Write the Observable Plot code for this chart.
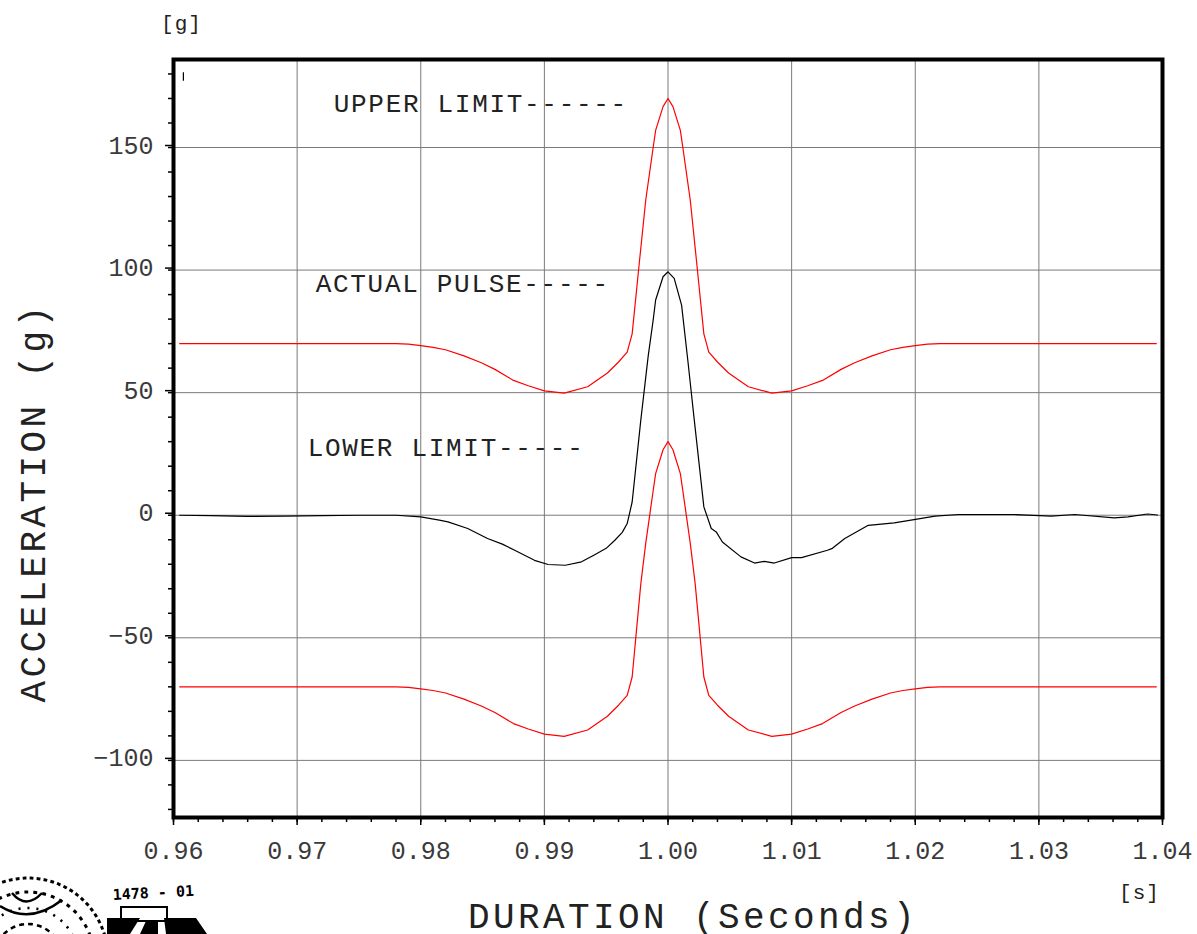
<!DOCTYPE html>
<html>
<head>
<meta charset="utf-8">
<script src="https://cdn.jsdelivr.net/npm/d3@7"></script>
<script src="https://cdn.jsdelivr.net/npm/@observablehq/plot@0.6"></script>
<style>
html, body { margin: 0; padding: 0; background: #fff; }
#wrap { position: relative; width: 1197px; height: 934px; overflow: hidden; background: #fff; }
#logo { position: absolute; left: 0; top: 0; pointer-events: none; }
</style>
</head>
<body>
<div id="wrap"></div>
<script>
// ---- Data ----
const pulseTime = [0.9605, 0.963, 0.966, 0.969, 0.972, 0.975, 0.978, 0.980, 0.9815, 0.9822, 0.9838, 0.9854, 0.9866, 0.9876, 0.9892, 0.9903, 0.9917, 0.9930, 0.9940, 0.9950, 0.9957, 0.9963, 0.9967, 0.9971, 0.9978, 0.9984, 0.9988, 0.9990, 0.9996, 1.0000, 1.0005, 1.0011, 1.0016, 1.0021, 1.0029, 1.0035, 1.0039, 1.0044, 1.0059, 1.0070, 1.0078, 1.0086, 1.0100, 1.0108, 1.0129, 1.0133, 1.0143, 1.0162, 1.0183, 1.0199, 1.0216, 1.0235, 1.0280, 1.0310, 1.0329, 1.0361, 1.0372, 1.0388, 1.0396];
const pulseAccel = [0, -0.2, -0.5, -0.4, -0.2, 0, 0, -0.7, -2, -2.7, -5.4, -9.5, -11.8, -14.3, -18.4, -20.1, -20.4, -19, -16.3, -13.5, -10.2, -7, -3.4, 5.4, 38.8, 65, 79.6, 87.8, 97.3, 99.3, 96.6, 85.7, 63.3, 40, 3.4, -5.4, -6.8, -10.9, -17, -19.5, -18.8, -19.5, -17.3, -17.3, -14.3, -13.5, -9.5, -4.1, -3.1, -1.8, -0.4, 0.3, 0.3, -0.4, 0.3, -1.1, -0.7, 0.5, 0.1];

const upperTime = [0.9605, 0.978, 0.979, 0.980, 0.981, 0.982, 0.9835, 0.9849, 0.986, 0.9875, 0.9887, 0.990, 0.9916, 0.9935, 0.9951, 0.9960, 0.9967, 0.9971, 0.9977, 0.9982, 0.9988, 0.9990, 0.9996, 1.0000, 1.0004, 1.0010, 1.0012, 1.0018, 1.0023, 1.0029, 1.0033, 1.0040, 1.0049, 1.0065, 1.0084, 1.0100, 1.0113, 1.0125, 1.0140, 1.0151, 1.0165, 1.0180, 1.0190, 1.0200, 1.0210, 1.0220, 1.0395];
const upperAccel = [70, 70, 69.8, 69.2, 68.5, 67.5, 65, 62.2, 59.5, 55, 52.8, 50.7, 49.8, 52.4, 58, 62.5, 66.5, 74, 104, 128.6, 150, 157, 166.7, 170, 166.7, 157, 150, 128.6, 104, 74, 66.5, 62.5, 58, 52.4, 49.8, 50.7, 52.8, 55, 59.5, 62.2, 65, 67.5, 68.5, 69.2, 69.8, 70, 70];

const lowerTime = [0.9605, 0.978, 0.979, 0.980, 0.981, 0.982, 0.9835, 0.9849, 0.986, 0.9875, 0.9887, 0.990, 0.9916, 0.9935, 0.9951, 0.9960, 0.9967, 0.9971, 0.9978, 0.9982, 0.9988, 0.9990, 0.9996, 1.0000, 1.0004, 1.0010, 1.0012, 1.0018, 1.0022, 1.0029, 1.0033, 1.0040, 1.0049, 1.0065, 1.0084, 1.0100, 1.0113, 1.0125, 1.0140, 1.0151, 1.0165, 1.0180, 1.0190, 1.0200, 1.0210, 1.0220, 1.0395];
const lowerAccel = [-70, -70, -70.2, -70.8, -71.5, -72.5, -75, -77.8, -80.5, -85, -87.2, -89.3, -90.2, -87.6, -82, -77.5, -73.5, -66, -28, -11.4, 10, 17, 26.7, 30, 26.7, 17, 10, -11.4, -28, -66, -73.5, -77.5, -82, -87.6, -90.2, -89.3, -87.2, -85, -80.5, -77.8, -75, -72.5, -71.5, -70.8, -70.2, -70, -70];

const xMajorTicks = [0.96, 0.97, 0.98, 0.99, 1.00, 1.01, 1.02, 1.03, 1.04];
const xMinorTicks = [0.96, 0.962, 0.964, 0.966, 0.968, 0.97, 0.972, 0.974, 0.976, 0.978, 0.98, 0.982, 0.984, 0.986, 0.988, 0.99, 0.992, 0.994, 0.996, 0.998, 1.0, 1.002, 1.004, 1.006, 1.008, 1.01, 1.012, 1.014, 1.016, 1.018, 1.02, 1.022, 1.024, 1.026, 1.028, 1.03, 1.032, 1.034, 1.036, 1.038, 1.04];
const yMajorTicks = [-100, -50, 0, 50, 100, 150];
const yMinorTicks = [-120, -110, -100, -90, -80, -70, -60, -50, -40, -30, -20, -10, 0, 10, 20, 30, 40, 50, 60, 70, 80, 90, 100, 110, 120, 130, 140, 150, 160, 170, 180];

const annotationText = ["UPPER LIMIT------", "ACTUAL PULSE-----", "LOWER LIMIT-----"];
const annotationTime = [0.97296, 0.97150, 0.97085];
const annotationAccel = [164.6, 91.0, 24.1];

const markerTime = [0.9608];
const markerAccel1 = [177];
const markerAccel2 = [180.5];

const yTitle = "ACCELERATION (g)";
const xTitle = "DURATION (Seconds)";
const yUnit = "[g]";
const xUnit = "[s]";
const logoCode = "1478 - 01";

// ---- Build tables ----
const rows = (xs, ys) => xs.map((x, i) => ({x, y: ys[i]}));
const pulse = rows(pulseTime, pulseAccel);
const upper = rows(upperTime, upperAccel);
const lower = rows(lowerTime, lowerAccel);
const annotations = annotationText.map((t, i) => ({t, x: annotationTime[i], y: annotationAccel[i]}));
const marker = markerTime.map((x, i) => ({x, y1: markerAccel1[i], y2: markerAccel2[i]}));

const FONT = "'Liberation Mono', 'DejaVu Sans Mono', monospace";

const chart = Plot.plot({
  width: 1197,
  height: 934,
  marginLeft: 173,
  marginRight: 35,
  marginTop: 59,
  marginBottom: 117,
  style: {fontFamily: FONT, background: "#fff", overflow: "visible"},
  x: {domain: [0.96, 1.04]},
  y: {domain: [-123.3, 185.9]},
  marks: [
    Plot.gridX(xMajorTicks, {stroke: "#7a7a7a", strokeOpacity: 1, strokeWidth: 1}),
    Plot.gridY(yMajorTicks, {stroke: "#7a7a7a", strokeOpacity: 1, strokeWidth: 1}),
    Plot.axisX(xMinorTicks, {anchor: "bottom", tickSize: 5, tickFormat: () => "", stroke: "#000", strokeWidth: 1.5, label: null}),
    Plot.axisX(xMajorTicks, {anchor: "bottom", tickSize: 8, tickPadding: 16, tickFormat: d => d.toFixed(2), fontSize: 25, stroke: "#000", fill: "#3a3a3a", strokeWidth: 1.5, label: null}),
    Plot.axisY(yMinorTicks, {anchor: "left", tickSize: 5, tickFormat: () => "", stroke: "#000", strokeWidth: 1.5, label: null}),
    Plot.axisY(yMajorTicks, {anchor: "left", tickSize: 8, tickPadding: 12, dy: -2, fontSize: 25, stroke: "#000", fill: "#3a3a3a", strokeWidth: 1.5, label: null}),
    Plot.ruleX(marker, {x: "x", y1: "y1", y2: "y2", stroke: "#000", strokeWidth: 1.2}),
    Plot.line(upper, {x: "x", y: "y", stroke: "#ff0000", strokeWidth: 1.2}),
    Plot.line(lower, {x: "x", y: "y", stroke: "#ff0000", strokeWidth: 1.2}),
    Plot.line(pulse, {x: "x", y: "y", stroke: "#000", strokeWidth: 1.2}),
    Plot.text(annotations, {x: "x", y: "y", text: "t", textAnchor: "start", lineAnchor: "bottom", fontSize: 26, fill: "#222"}),
    Plot.frame({stroke: "#000", strokeWidth: 4}),
    Plot.text([yTitle], {frameAnchor: "left", dx: -129, dy: 64, rotate: -90, textAnchor: "middle", lineAnchor: "bottom", fontSize: 36, fill: "#222"}),
    Plot.text([xTitle], {frameAnchor: "bottom", dx: 25, dy: 110, textAnchor: "middle", lineAnchor: "bottom", fontSize: 36, fill: "#222"}),
    Plot.text([yUnit], {frameAnchor: "top-left", dx: 8, dy: -30, textAnchor: "middle", lineAnchor: "bottom", fontSize: 21, fill: "#222"}),
    Plot.text([xUnit], {frameAnchor: "bottom-right", dx: -23, dy: 81, textAnchor: "middle", lineAnchor: "bottom", fontSize: 21, fill: "#222"})
  ]
});

// letter spacing to mimic the wider typewriter face of the original
chart.querySelectorAll("text").forEach(t => {
  const s = t.textContent;
  if (annotationText.includes(s)) t.setAttribute("letter-spacing", "1.7");
  else if (s === yTitle || s === xTitle) t.setAttribute("letter-spacing", "3.4");
  else if (s === yUnit || s === xUnit) t.setAttribute("letter-spacing", "1");
});

document.getElementById("wrap").appendChild(chart);

// ---- Decorative logo (bottom-left corner) ----
const logo = d3.select("#wrap").append("svg").attr("id", "logo").attr("width", 1197).attr("height", 934);
const lg = logo.append("g");
[[34, "3 6", 2.5], [50, "2 7", 2.5], [66, "3 6", 3], [80, "2 5", 3]].forEach(([r, dash, w]) => {
  lg.append("path")
    .attr("d", d3.arc()({innerRadius: r, outerRadius: r, startAngle: -Math.PI / 2 + 0.3, endAngle: Math.PI / 2 - 0.3}))
    .attr("transform", "translate(28,958)")
    .attr("fill", "none").attr("stroke", "#000").attr("stroke-width", w).attr("stroke-dasharray", dash);
});
lg.append("path").attr("d", "M12,893 Q26,910 42,893").attr("fill", "none").attr("stroke", "#000").attr("stroke-width", 2.5);
lg.append("path").attr("d", "M0,906 Q30,925 62,900").attr("fill", "none").attr("stroke", "#000").attr("stroke-width", 2.5);
lg.append("text").attr("x", 113).attr("y", 900).attr("transform", "rotate(-3,113,900)").attr("font-family", "'DejaVu Sans Mono', monospace").attr("font-size", 15).attr("font-weight", "bold").attr("fill", "#000").text(logoCode);
lg.append("rect").attr("x", 121).attr("y", 907).attr("width", 46).attr("height", 14).attr("fill", "none").attr("stroke", "#000").attr("stroke-width", 2);
lg.append("path").attr("d", "M107,918 L140,918 L130,934 L107,934 Z M146,921 L158,921 L158,934 L140,934 Z M164,918 L196,918 L207,934 L166,934 Z").attr("fill", "#000");
</script>
</body>
</html>
